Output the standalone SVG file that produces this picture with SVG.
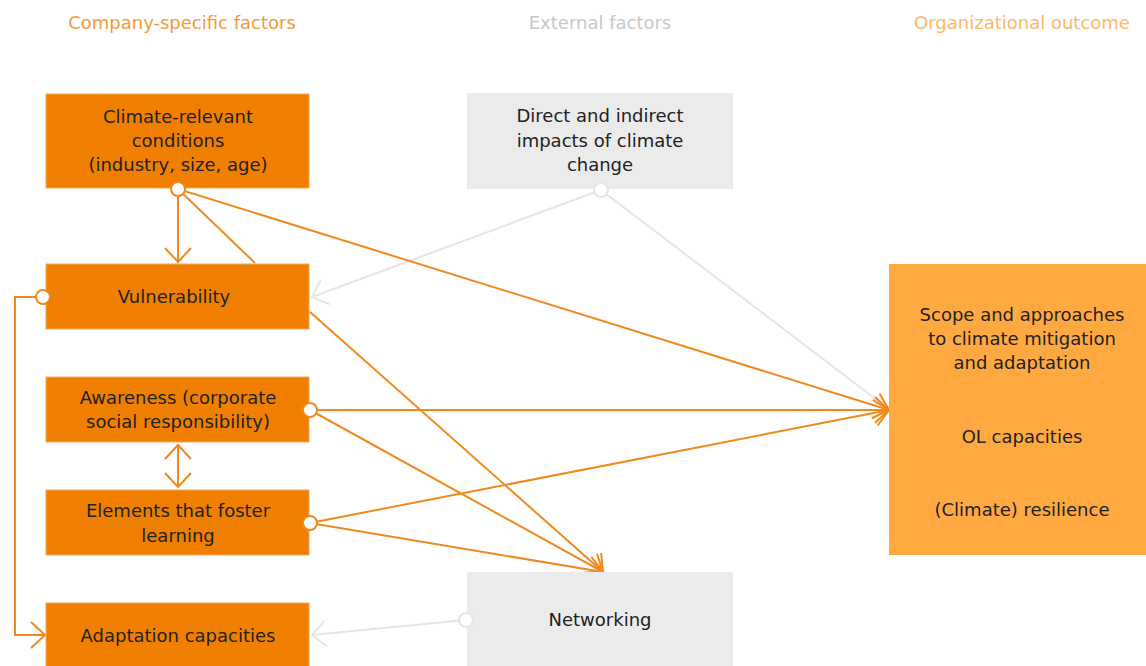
<svg xmlns="http://www.w3.org/2000/svg" width="1146" height="666" viewBox="0 0 1146 666">
<style>
.t{font-family:"DejaVu Sans","Liberation Sans",sans-serif;font-size:18px;fill:#222;text-anchor:middle}
.h{font-family:"DejaVu Sans","Liberation Sans",sans-serif;font-size:18px;text-anchor:middle}
.ob{fill:#F07F00;stroke:#F7A860;stroke-width:1}
.gb{fill:#EBEBEB}
.oc{fill:#FFA940}
.ol{stroke:#F08A1E;stroke-width:2;fill:none}
.gl{stroke:#E6E6E6;stroke-width:2;fill:none}
.oci{fill:#fff;stroke:#F08A1E;stroke-width:2}
.gci{fill:#fff;stroke:#E6E6E6;stroke-width:2}
</style>
<defs>
<marker id="ao" markerUnits="userSpaceOnUse" markerWidth="32" markerHeight="32" viewBox="-16 -16 32 32" refX="0" refY="0" orient="auto-start-reverse"><path d="M-14,-13 L0,0 L-14,13" fill="none" stroke="#F08A1E" stroke-width="2"/></marker>
<marker id="ag" markerUnits="userSpaceOnUse" markerWidth="32" markerHeight="32" viewBox="-16 -16 32 32" refX="0" refY="0" orient="auto"><path d="M-14,-13 L0,0 L-14,13" fill="none" stroke="#E6E6E6" stroke-width="2"/></marker>
</defs>
<rect width="1146" height="666" fill="#fff"/>
<g id="headers">
<text class="h" x="182" y="29" fill="#F39A3A">Company-specific factors</text>
<text class="h" x="600" y="29" fill="#C8C8C8">External factors</text>
<text class="h" x="1022" y="29" fill="#FFB766">Organizational outcome</text>
</g>
<g id="connectors">
<path class="gl" d="M601,190 L312,297" marker-end="url(#ag)"/>
<path class="gl" d="M601,190 L886,407"/>
<path class="gl" d="M466,620 L312,635" marker-end="url(#ag)"/>
<path class="ol" d="M178,189 L178,262" marker-end="url(#ao)"/>
<path class="ol" d="M178,189 L255,263"/>
<path class="ol" d="M178,189 L889,410" marker-end="url(#ao)"/>
<path class="ol" d="M43,297 L15,297 L15,635 L45,635" marker-end="url(#ao)"/>
<path class="ol" d="M310,410 L889,410" marker-end="url(#ao)"/>
<path class="ol" d="M310,410 L603,572" marker-end="url(#ao)"/>
<path class="ol" d="M310,523 L889,410" marker-end="url(#ao)"/>
<path class="ol" d="M310,523 L603,572" marker-end="url(#ao)"/>
<path class="ol" d="M310,312 L603,572" marker-end="url(#ao)"/>
<path class="ol" d="M178,445 L178,487" marker-start="url(#ao)" marker-end="url(#ao)"/>
</g>
<g id="n-climate">
<rect class="ob" x="46" y="94" width="263" height="94"/>
<text class="t" x="178" y="123">Climate-relevant</text>
<text class="t" x="178" y="147">conditions</text>
<text class="t" x="178" y="171">(industry, size, age)</text>
<circle class="oci" cx="178" cy="189" r="7"/>
</g>
<g id="n-vulnerability">
<rect class="ob" x="46" y="264" width="263" height="65"/>
<text class="t" x="174" y="303">Vulnerability</text>
<circle class="oci" cx="43" cy="297" r="7"/>
</g>
<g id="n-awareness">
<rect class="ob" x="46" y="377" width="263" height="65"/>
<text class="t" x="178" y="404">Awareness (corporate</text>
<text class="t" x="178" y="428">social responsibility)</text>
<circle class="oci" cx="310" cy="410" r="7"/>
</g>
<g id="n-elements">
<rect class="ob" x="46" y="490" width="263" height="65"/>
<text class="t" x="178" y="517">Elements that foster</text>
<text class="t" x="178" y="542">learning</text>
<circle class="oci" cx="310" cy="523" r="7"/>
</g>
<g id="n-adaptation">
<rect class="ob" x="46" y="603" width="263" height="70"/>
<text class="t" x="178" y="642">Adaptation capacities</text>
</g>
<g id="n-direct">
<rect class="gb" x="467" y="93" width="266" height="96"/>
<text class="t" x="600" y="122">Direct and indirect</text>
<text class="t" x="600" y="147">impacts of climate</text>
<text class="t" x="600" y="171">change</text>
<circle class="gci" cx="601" cy="190" r="7"/>
</g>
<g id="n-networking">
<rect class="gb" x="467" y="572" width="266" height="100"/>
<text class="t" x="600" y="626">Networking</text>
<circle class="gci" cx="466" cy="620" r="7"/>
</g>
<g id="n-outcome">
<rect class="oc" x="889" y="264" width="257" height="291"/>
<text class="t" x="1022" y="321">Scope and approaches</text>
<text class="t" x="1022" y="345">to climate mitigation</text>
<text class="t" x="1022" y="369">and adaptation</text>
<text class="t" x="1022" y="443">OL capacities</text>
<text class="t" x="1022" y="516">(Climate) resilience</text>
</g>
</svg>
